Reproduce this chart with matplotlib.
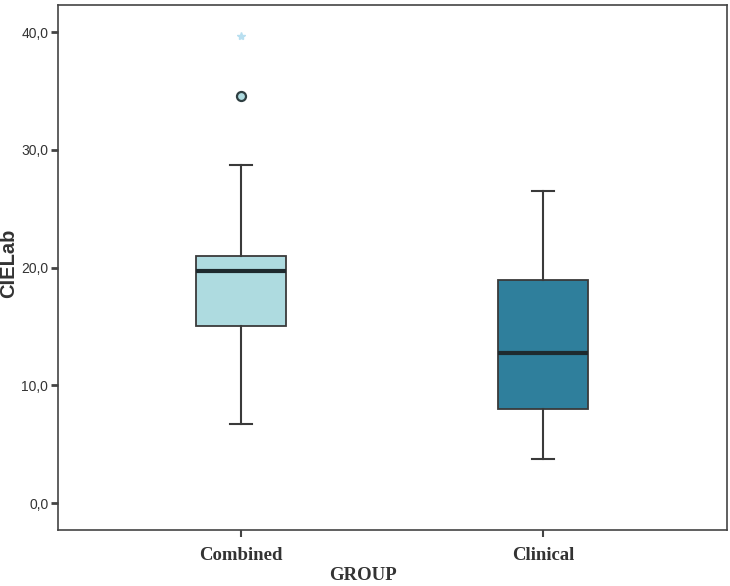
import matplotlib
matplotlib.use("Agg")
import matplotlib.pyplot as plt

# box statistics
groups = ["Combined", "Clinical"]
whisker_low = [6.7, 3.75]
q1 = [15.05, 8.0]
median = [19.7, 12.75]
q3 = [21.0, 18.95]
whisker_high = [28.7, 26.5]
outliers_circle = [[34.6], []]
outliers_star = [[39.7], []]
box_colors = ["#aedbe0", "#2f7f9c"]

yticks = [0, 10, 20, 30, 40]
ytick_labels = ["0,0", "10,0", "20,0", "30,0", "40,0"]

fig = plt.figure(figsize=(7.3, 5.86), dpi=100)
ax = fig.add_axes([0.0795, 0.0956, 0.9164, 0.896])

stats = []
for i, g in enumerate(groups):
    stats.append({
        "label": g,
        "whislo": whisker_low[i],
        "q1": q1[i],
        "med": median[i],
        "q3": q3[i],
        "whishi": whisker_high[i],
        "fliers": [],
    })

edge = "#3a3a3a"
bp = ax.bxp(stats, positions=[1, 2], widths=0.30, patch_artist=True,
            showfliers=False,
            boxprops=dict(edgecolor=edge, linewidth=1.3),
            medianprops=dict(color="#1e2a2e", linewidth=3),
            whiskerprops=dict(color=edge, linewidth=1.5),
            capprops=dict(color=edge, linewidth=1.5),
            capwidths=0.075)
for patch, c in zip(bp["boxes"], box_colors):
    patch.set_facecolor(c)

for i, vals in enumerate(outliers_circle):
    for v in vals:
        ax.plot(i + 1, v, "o", ms=6.5, mfc="#aedbe0", mec="#2f3f42", mew=1.6)
for i, vals in enumerate(outliers_star):
    for v in vals:
        ax.plot(i + 1, v, "*", ms=6, color="#b8dff0", mec="#b8dff0")

ax.set_xlim(0.394, 2.609)
ax.set_ylim(-2.29, 42.3)

ax.set_yticks(yticks)
ax.set_yticklabels(ytick_labels, fontsize=10, color="#333333",
                   family="Liberation Sans")
ax.set_xticks([1, 2])
ax.set_xticklabels(groups, fontsize=13.5, fontweight="bold",
                   family="Liberation Serif", color="#333333")
ax.tick_params(axis="y", length=5, width=2, color="#444444", pad=2)
ax.tick_params(axis="x", length=5, width=1.5, color="#444444", pad=7)

for s in ax.spines.values():
    s.set_color("#444444")
    s.set_linewidth(1.2)

# axis titles placed in figure coords (offset like the original)
fig.text(9 / 730, 1 - 263 / 586, "CIELab", rotation=90, ha="center",
         va="center", fontsize=14.5, fontweight="bold",
         family="Liberation Sans", color="#333333")
fig.text(363 / 730, 1 - 575 / 586, "GROUP", ha="center", va="center",
         fontsize=13.5, fontweight="bold", family="Liberation Serif",
         color="#333333")

fig.savefig("out.png", dpi=100, facecolor="white")
